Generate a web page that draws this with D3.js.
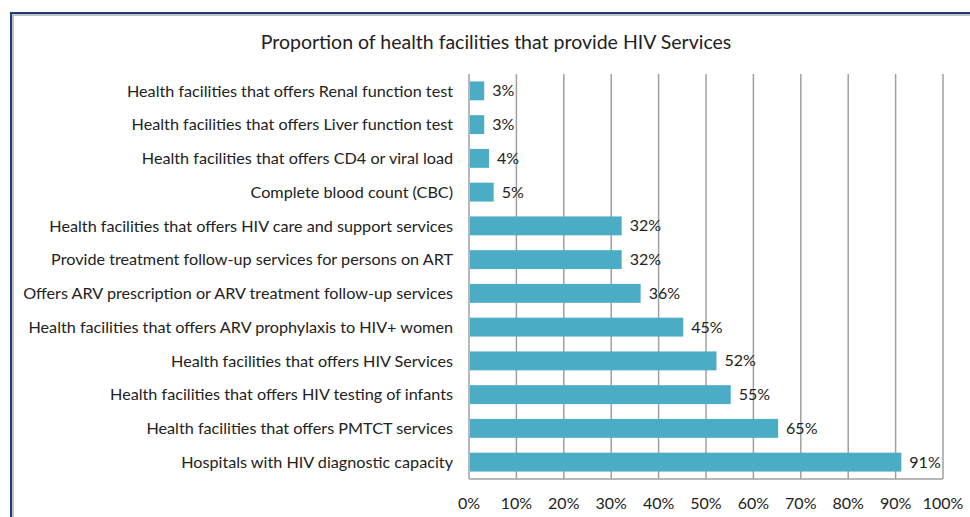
<!DOCTYPE html>
<html>
<head>
<meta charset="utf-8">
<script src="https://cdn.jsdelivr.net/npm/d3@7"></script>
<style>
  body { margin: 0; background: #fff; }
  svg { font-family: Lato, "Open Sans", sans-serif; }
</style>
</head>
<body>
<div id="chart"></div>
<script>
const title = "Proportion of health facilities that provide HIV Services";
const categories = [
    "Health facilities that offers Renal function test",
    "Health facilities that offers Liver function test",
    "Health facilities that offers CD4 or viral load",
    "Complete blood count (CBC)",
    "Health facilities that offers HIV care and support services",
    "Provide treatment follow-up services for persons on ART",
    "Offers ARV prescription or ARV treatment follow-up services",
    "Health facilities that offers ARV prophylaxis to HIV+ women",
    "Health facilities that offers HIV Services",
    "Health facilities that offers HIV testing of infants",
    "Health facilities that offers PMTCT services",
    "Hospitals with HIV diagnostic capacity"
];
const values = [3, 3, 4, 5, 32, 32, 36, 45, 52, 55, 65, 91];
const ticks = [0, 10, 20, 30, 40, 50, 60, 70, 80, 90, 100];

function drawChart(width, height, source) {
    const margin = {top: 74, right: 27, bottom: 38, left: 469};

    const svg = d3.select(source)
        .append("svg")
        .attr("width", width)
        .attr("height", height);

    // outer frame
    svg.append("rect")
        .attr("x", 11).attr("y", 13)
        .attr("width", width + 20).attr("height", height + 20)
        .attr("fill", "none")
        .attr("stroke", "#1f3a7a")
        .attr("stroke-width", 2);
    svg.append("rect")
        .attr("x", 13).attr("y", 15)
        .attr("width", width + 20).attr("height", height + 20)
        .attr("fill", "none")
        .attr("stroke", "#b0b0b0")
        .attr("stroke-width", 1.5);

    svg.append("text")
        .attr("x", 496).attr("y", 49)
        .attr("text-anchor", "middle")
        .attr("font-size", "19.5px")
        .attr("fill", "#222")
        .text(title);

    let x = d3.scaleLinear()
        .domain([0, 100])
        .range([margin.left, width - margin.right]);
    let y = d3.scaleBand()
        .domain(categories)
        .range([margin.top, height - margin.bottom])
        .paddingInner(0.44)
        .paddingOuter(0.22);

    // gridlines
    svg.append("g")
        .selectAll("line")
        .data(ticks)
        .join("line")
        .attr("x1", d => x(d)).attr("x2", d => x(d))
        .attr("y1", margin.top).attr("y2", height - margin.bottom)
        .attr("stroke", "#a0a0a0")
        .attr("stroke-width", 1.5);

    svg.append("line")
        .attr("x1", margin.left).attr("x2", width - margin.right)
        .attr("y1", height - margin.bottom).attr("y2", height - margin.bottom)
        .attr("stroke", "#a0a0a0")
        .attr("stroke-width", 1.5);

    svg.append("g")
        .selectAll("rect")
        .data(values)
        .join("rect")
        .attr("x", x(0) + 1)
        .attr("y", (d, i) => y(categories[i]))
        .attr("width", d => x(d) - x(0))
        .attr("height", y.bandwidth())
        .attr("fill", "#4bacc6");

    svg.append("g")
        .selectAll("text")
        .data(values)
        .join("text")
        .attr("x", d => x(d) + 9)
        .attr("y", (d, i) => y(categories[i]) + y.bandwidth() / 2)
        .attr("dy", "0.35em")
        .attr("font-size", "16px")
        .attr("fill", "#222")
        .text(d => d + "%");

    svg.append("g")
        .selectAll("text")
        .data(categories)
        .join("text")
        .attr("x", margin.left - 16)
        .attr("y", d => y(d) + y.bandwidth() / 2)
        .attr("dy", "0.35em")
        .attr("text-anchor", "end")
        .attr("font-size", "16.2px")
        .attr("fill", "#222")
        .text(d => d);

    svg.append("g")
        .selectAll("text")
        .data(ticks)
        .join("text")
        .attr("x", d => x(d))
        .attr("y", height - margin.bottom + 24)
        .attr("dy", "0.35em")
        .attr("text-anchor", "middle")
        .attr("font-size", "16px")
        .attr("fill", "#222")
        .text(d => d + "%");

    return svg.node();
}

drawChart(970, 517, "#chart");
</script>
</body>
</html>
